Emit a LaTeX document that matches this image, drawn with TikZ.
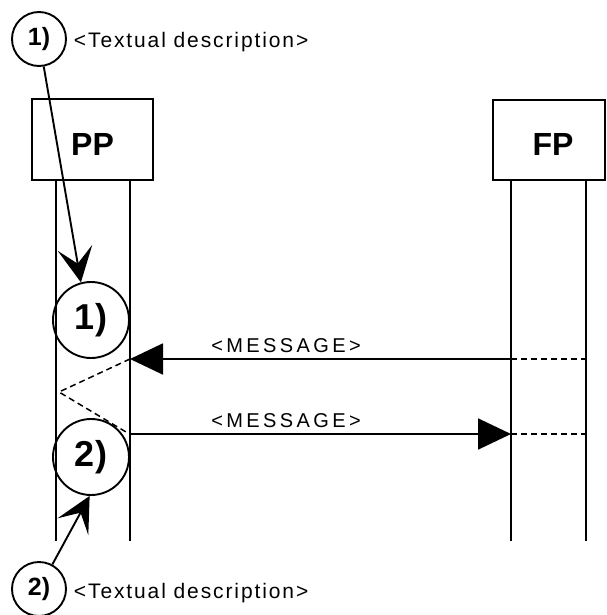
\documentclass[tikz,border=0pt]{standalone}
\usepackage{fontspec}
\setmainfont{Liberation Sans}
\newfontfamily\descfont[LetterSpace=9]{Liberation Sans}
\newfontfamily\msgfont[LetterSpace=17]{Liberation Sans}
\usetikzlibrary{arrows.meta}
\begin{document}
\begin{tikzpicture}[x=1pt,y=-1pt,line width=1.9pt,
  entity/.style={draw,inner sep=0pt,text height=31pt,text depth=0pt,
    font=\fontsize{32}{32}\selectfont\bfseries},
  bigref/.style={draw,circle,inner sep=0pt,minimum size=76pt,
    font=\fontsize{36}{36}\selectfont\bfseries},
  smallref/.style={draw,circle,inner sep=0pt,minimum size=54pt,
    font=\fontsize{25}{25}\selectfont\bfseries},
  desc/.style={anchor=base west,inner sep=0pt,font=\fontsize{21}{21}\descfont},
  msglabel/.style={anchor=base,inner sep=0pt,font=\fontsize{20}{20}\msgfont},
  msgarrow/.style={-{Triangle[length=33pt,width=31pt]}},
  annarrow/.style={-{Stealth[length=35pt,width=35pt,inset=16pt]}},
  dashline/.style={line width=1.5pt,dash pattern=on 6pt off 4pt}]
\useasboundingbox (0,0) rectangle (606,615);

% entity boxes
\node[entity,minimum width=121pt,minimum height=81pt] (pp) at (92.5,139.5) {PP};
\node[entity,minimum width=112pt,minimum height=80pt] (fp) at (549,140) {\kern8pt FP};

% lifelines
\coordinate (ppa1) at (56,180);  \coordinate (ppa2) at (56,541);
\coordinate (ppb1) at (130,180); \coordinate (ppb2) at (130,541);
\coordinate (fpa1) at (511,180); \coordinate (fpa2) at (511,541);
\coordinate (fpb1) at (586,180); \coordinate (fpb2) at (586,541);
\draw (ppa1) -- (ppa2);
\draw (ppb1) -- (ppb2);
\draw (fpa1) -- (fpa2);
\draw (fpb1) -- (fpb2);

% reference circles on the PP lifeline
\node[bigref] (r1) at (91,320) {1)};
\node[bigref] (r2) at (91,457) {2)};

% messages
\coordinate (m1s) at (511,359); \coordinate (m1e) at (130,359);
\coordinate (m2s) at (130,434); \coordinate (m2e) at (511,434);
\draw[msgarrow] (m1s) -- (m1e);
\draw[msgarrow] (m2s) -- (m2e);
\node[msglabel] (l1) at (286,352) {<MESSAGE>};
\node[msglabel] (l2) at (286,427) {<MESSAGE>};

% dashed lines
\coordinate (zig) at (59,392);
\coordinate (zend) at (126,432);
\draw[dashline] (m1e) -- (zig) -- (zend);
\coordinate (f1a) at (511,359); \coordinate (f1b) at (586,359);
\coordinate (f2a) at (511,434); \coordinate (f2b) at (586,434);
\draw[dashline] (f1a) -- (f1b);
\draw[dashline] (f2a) -- (f2b);

% annotations
\node[smallref] (a1) at (39,39) {1)};
\node[desc] (d1) at (73,48) {<Textual description>};
\node[smallref] (a2) at (39,589) {2)};
\node[desc] (d2) at (73,598) {<Textual description>};
\draw[annarrow] (a1) -- (r1.105);
\draw[annarrow] (a2) -- (r2.268);
\end{tikzpicture}
\end{document}
